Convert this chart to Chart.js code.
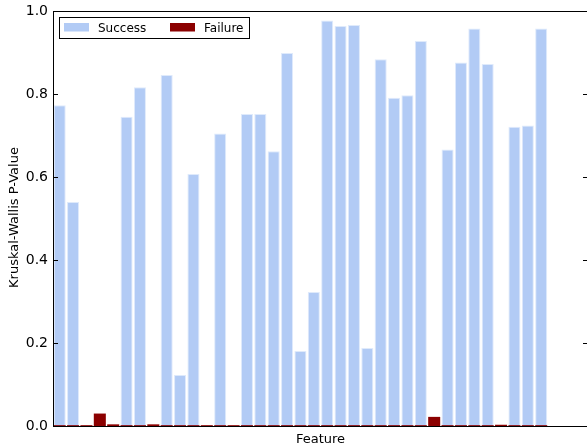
<!DOCTYPE html>
<html>
<head>
<meta charset="utf-8">
<title>Kruskal-Wallis P-Value by Feature</title>
<script src="https://cdn.jsdelivr.net/npm/chart.js@4.4.1/dist/chart.umd.min.js"></script>
<style>
  html, body { margin: 0; padding: 0; background: #ffffff; overflow: hidden; }
  #wrap { width: 590px; height: 446px; }
</style>
</head>
<body>
<div id="wrap"><canvas id="chart" width="590" height="446"></canvas></div>
<script>
// Features (unnamed on the axis), one slot each
const categories = [
  'f01','f02','f03','f04','f05','f06','f07','f08','f09','f10',
  'f11','f12','f13','f14','f15','f16','f17','f18','f19','f20',
  'f21','f22','f23','f24','f25','f26','f27','f28','f29','f30',
  'f31','f32','f33','f34','f35','f36','f37','f38','f39','f40'
];

// Kruskal-Wallis p-values for features where the test succeeded
const successValues = [
  0.773, 0.540, null, null, null, 0.745, 0.816, null, 0.846, 0.123,
  0.607, null, 0.705, null, 0.752, 0.752, 0.662, 0.899, 0.181, 0.323,
  0.977, 0.964, 0.966, 0.188, 0.884, 0.791, 0.797, 0.928, null, 0.666,
  0.876, 0.958, 0.872, null, 0.721, 0.724, 0.958, null, null, null
];

// p-values for the failure case
const failureValues = [
  0.002, 0.002, 0.002, 0.030, 0.004, 0.002, 0.002, 0.004, 0.002, 0.002,
  0.002, 0.002, 0.002, 0.002, 0.002, 0.002, 0.002, 0.002, 0.002, 0.002,
  0.002, 0.002, 0.002, 0.002, 0.002, 0.002, 0.002, 0.002, 0.022, 0.002,
  0.002, 0.002, 0.002, 0.003, 0.002, 0.002, 0.002, null, null, null
];

const yTicks = [0.0, 0.2, 0.4, 0.6, 0.8, 1.0];

const SUCCESS_COLOR = '#b2cbf5';
const FAILURE_COLOR = '#8b0000';
const FONT = 'DejaVu Sans';

// Frame, inward tick marks, axis titles and legend box
const framePlugin = {
  id: 'frame',
  afterDraw(chart) {
    const { ctx, chartArea: a, scales } = chart;
    const y = scales.y;
    ctx.save();
    ctx.strokeStyle = '#000000';
    ctx.lineWidth = 1;
    ctx.strokeRect(Math.round(a.left) + 0.5, Math.round(a.top) + 0.5,
                   Math.round(a.right - a.left), Math.round(a.bottom - a.top));
    ctx.beginPath();
    y.ticks.forEach(t => {
      const py = Math.round(y.getPixelForValue(t.value)) + 0.5;
      ctx.moveTo(a.left, py); ctx.lineTo(a.left + 5, py);
      ctx.moveTo(a.right - 5, py); ctx.lineTo(a.right, py);
    });
    ctx.stroke();

    // axis titles
    ctx.fillStyle = '#000000';
    ctx.font = '13px "' + FONT + '"';
    ctx.textAlign = 'center';
    ctx.textBaseline = 'alphabetic';
    ctx.fillText('Feature', (a.left + a.right) / 2, 442.5);
    ctx.save();
    ctx.translate(17.5, (a.top + a.bottom) / 2 - 1);
    ctx.rotate(-Math.PI / 2);
    ctx.fillText('Kruskal-Wallis P-Value', 0, 0);
    ctx.restore();

    // legend
    const lx = Math.round(a.left) + 6, ly = Math.round(a.top) + 6;
    ctx.fillStyle = '#ffffff';
    ctx.fillRect(lx, ly, 190, 21);
    ctx.strokeStyle = '#000000';
    ctx.strokeRect(lx + 0.5, ly + 0.5, 190, 21);
    ctx.font = '12px "' + FONT + '"';
    ctx.textAlign = 'left';
    ctx.fillStyle = SUCCESS_COLOR;
    ctx.fillRect(lx + 5, ly + 6, 25, 8.5);
    ctx.fillStyle = FAILURE_COLOR;
    ctx.fillRect(lx + 111, ly + 6, 25, 8.5);
    ctx.fillStyle = '#000000';
    ctx.fillText('Success', lx + 39, ly + 14.5);
    ctx.fillText('Failure', lx + 145, ly + 14.5);
    ctx.restore();
  }
};

new Chart(document.getElementById('chart'), {
  type: 'bar',
  data: {
    labels: categories,
    datasets: [
      {
        label: 'Failure',
        data: failureValues,
        backgroundColor: FAILURE_COLOR,
        borderWidth: 0,
        barPercentage: 0.9,
        categoryPercentage: 1.0,
        order: 0
      },
      {
        label: 'Success',
        data: successValues,
        backgroundColor: SUCCESS_COLOR,
        borderColor: 'rgba(220,232,251,0.9)',
        borderWidth: 1,
        barPercentage: 0.9,
        categoryPercentage: 1.0,
        order: 1
      }
    ]
  },
  options: {
    responsive: false,
    animation: false,
    devicePixelRatio: 1,
    layout: { padding: { left: 0, right: 2, top: 11, bottom: 0 } },
    plugins: {
      legend: { display: false },
      tooltip: { enabled: false },
      title: { display: false }
    },
    scales: {
      x: {
        stacked: true,
        offset: true,
        grid: { display: false, drawTicks: false },
        border: { display: false },
        ticks: { display: false },
        afterFit(scale) {
          scale.height = 20;
          scale.paddingLeft = 0;
          scale.paddingRight = 0;
        }
      },
      y: {
        stacked: false,
        min: 0,
        max: 1,
        grid: { display: false, drawTicks: false },
        border: { display: false },
        afterBuildTicks(scale) {
          scale.ticks = yTicks.map(v => ({ value: v }));
        },
        ticks: {
          padding: 5,
          color: '#000000',
          font: { family: FONT, size: 14 },
          callback: v => Number(v).toFixed(1)
        },
        afterFit(scale) {
          scale.width = 53;
          scale.paddingTop = 0;
          scale.paddingBottom = 0;
        }
      }
    }
  },
  plugins: [framePlugin]
});
</script>
</body>
</html>
